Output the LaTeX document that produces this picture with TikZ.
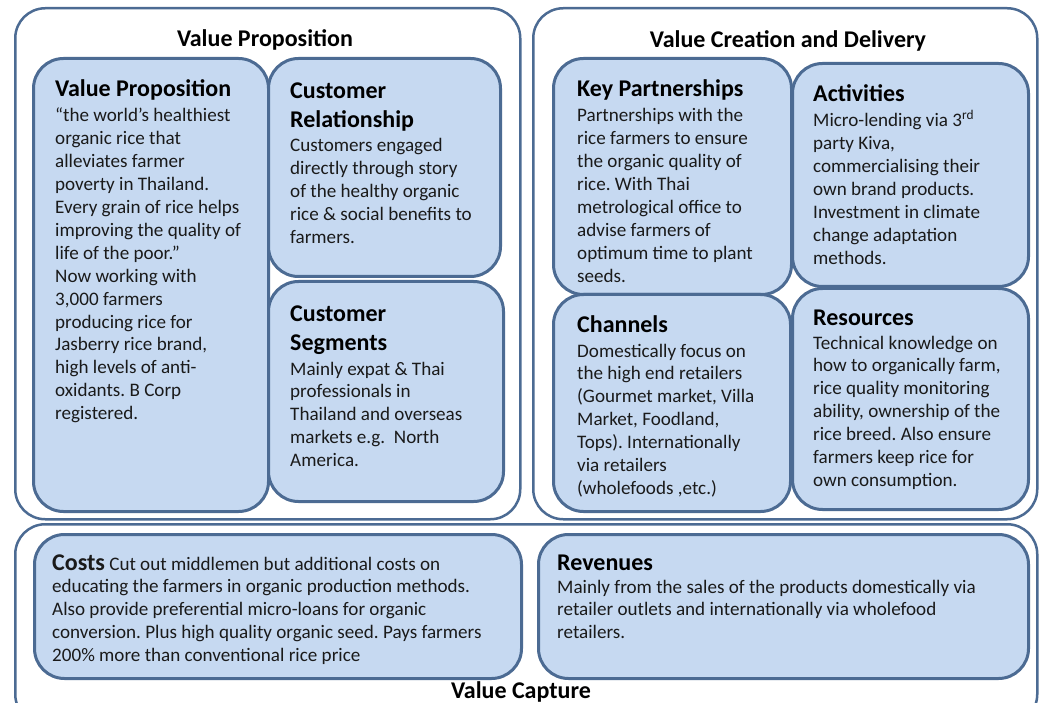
\documentclass[tikz,border=0pt]{standalone}
\usepackage{fontspec}
\setmainfont{Carlito}
\frenchspacing
\definecolor{bordc}{HTML}{4C6B93}
\definecolor{boxc}{HTML}{C6D9F1}
\definecolor{txtc}{HTML}{1A1A1A}
\newcommand{\bodyfnt}{\fontsize{19.1}{22.9}\selectfont}
\newcommand{\ttlfnt}{\fontsize{24}{28.3}\selectfont\bfseries}
\newcommand{\tb}[1]{\begin{tabular}[t]{@{}l@{}}#1\end{tabular}}
\tikzset{
  outerbox/.style={draw=bordc, line width=2.5pt, rounded corners=30pt, fill=white, inner sep=0pt, anchor=north west},
  innerbox/.style={draw=bordc, line width=3pt, rounded corners=30pt, fill=boxc, inner sep=0pt, anchor=north west},
  ttl/.style={font=\ttlfnt, text=black, anchor=base west, inner sep=0pt},
  otl/.style={font=\ttlfnt, text=black, anchor=base, inner sep=0pt},
  bodytxt/.style={font=\bodyfnt, text=txtc, anchor=base west, inner sep=0pt},
}
\begin{document}
\begin{tikzpicture}[x=1pt,y=-1pt]
\useasboundingbox (0,0) rectangle (1044,703);
\clip (0,0) rectangle (1044,703);
% outer boxes
\node[outerbox, minimum width=505pt, minimum height=511pt] (vpout) at (14,7) {};
\node[outerbox, minimum width=504pt, minimum height=511pt] (vcout) at (532,7) {};
\node[outerbox, minimum width=1022pt, minimum height=200pt] (capout) at (14,523) {};
\node[otl] (vptitle) at (265,47) {Value Proposition};
\node[otl] (vctitle) at (788,48) {Value Creation and Delivery};
\node[otl] (captitle) at (521,698) {Value Capture};
% inner boxes
\node[innerbox, minimum width=235pt, minimum height=453pt] (vpbox) at (32,57) {};
\node[innerbox, minimum width=232pt, minimum height=218pt] (crbox) at (267,57) {};
\node[innerbox, minimum width=235pt, minimum height=220pt] (csbox) at (267,280) {};
\node[innerbox, minimum width=238pt, minimum height=236pt] (kpbox) at (552,57) {};
\node[innerbox, minimum width=236pt, minimum height=223pt] (acbox) at (791,62) {};
\node[innerbox, minimum width=237pt, minimum height=217pt] (chbox) at (552,293) {};
\node[innerbox, minimum width=236pt, minimum height=221pt] (rsbox) at (791,287) {};
\node[innerbox, minimum width=487pt, minimum height=144pt] (cobox) at (33,533) {};
\node[innerbox, minimum width=490pt, minimum height=144pt] (rvbox) at (537,533) {};
% Value Proposition
\node[ttl] (vpt) at (55,97) {Value Proposition};
\node[bodytxt] (vpb) at (55,122) {\tb{“the world’s healthiest\\organic rice that\\alleviates farmer\\poverty in Thailand.\\Every grain of rice helps\\improving the quality of\\life of the poor.”\\Now working with\\3,000 farmers\\producing rice for\\Jasberry rice brand,\\high levels of anti-\\oxidants. B Corp\\registered.}};
% Customer Relationship
\node[ttl] (crt) at (290,99) {\tb{Customer\\Relationship}};
\node[bodytxt] (crb) at (290,152) {\tb{Customers engaged\\directly through story\\of the healthy organic\\rice \& social benefits to\\farmers.}};
% Customer Segments
\node[ttl] (cst) at (290,322) {\tb{Customer\\Segments}};
\node[bodytxt] (csb) at (290,375) {\tb{Mainly expat \& Thai\\professionals in\\Thailand and overseas\\markets e.g.\ \ North\\America.}};
% Key Partnerships
\node[ttl] (kpt) at (577,97) {Key Partnerships};
\node[bodytxt] (kpb) at (577,122) {\tb{Partnerships with the\\rice farmers to ensure\\the organic quality of\\rice. With Thai\\metrological office to\\advise farmers of\\optimum time to plant\\seeds.}};
% Activities
\node[ttl] (act) at (813,102) {Activities};
\node[bodytxt] (acb) at (813,127) {\tb{Micro-lending via 3\textsuperscript{rd}\\party Kiva,\\commercialising their\\own brand products.\\Investment in climate\\change adaptation\\methods.}};
% Channels
\node[ttl] (cht) at (577,333) {Channels};
\node[bodytxt] (chb) at (577,357) {\tb{Domestically focus on\\the high end retailers\\(Gourmet market, Villa\\Market, Foodland,\\Tops). Internationally\\via retailers\\(wholefoods ,etc.)}};
% Resources
\node[ttl] (rst) at (813,325) {Resources};
\node[bodytxt] (rsb) at (813,349) {\tb{Technical knowledge on\\how to organically farm,\\rice quality monitoring\\ability, ownership of the\\rice breed. Also ensure\\farmers keep rice for\\own consumption.}};
% Costs
\node[bodytxt] (cob) at (52,570) {\tb{{\ttlfnt Costs} Cut out middlemen but additional costs on\\educating the farmers in organic production methods.\\Also provide preferential micro-loans for organic\\conversion. Plus high quality organic seed. Pays farmers\\200\% more than conventional rice price}};
% Revenues
\node[ttl] (rvt) at (557,570) {Revenues};
\node[bodytxt] (rvb) at (557,593) {\tb{Mainly from the sales of the products domestically via\\retailer outlets and internationally via wholefood\\retailers.}};
\end{tikzpicture}
\end{document}
